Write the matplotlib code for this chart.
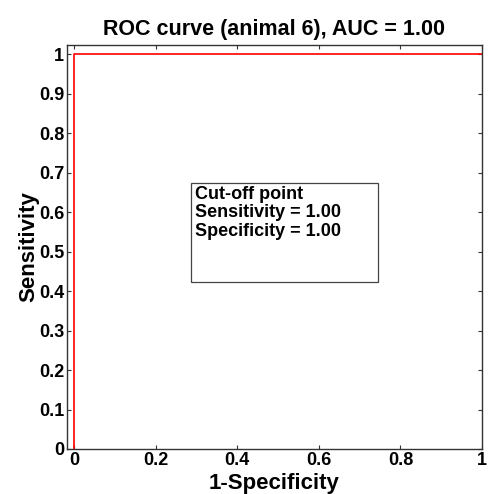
import matplotlib
matplotlib.use("Agg")
import matplotlib.pyplot as plt
from matplotlib.patches import Rectangle

fpr = [0.0, 0.0, 1.0]
tpr = [0.0, 1.0, 1.0]
ticks_x = [0, 0.2, 0.4, 0.6, 0.8, 1]
ticks_y = [0, 0.1, 0.2, 0.3, 0.4, 0.5, 0.6, 0.7, 0.8, 0.9, 1]
tick_lbl_x = ["0", "0.2", "0.4", "0.6", "0.8", "1"]
tick_lbl_y = ["0", "0.1", "0.2", "0.3", "0.4", "0.5", "0.6", "0.7", "0.8", "0.9", "1"]
box_lines = ["Cut-off point", "Sensitivity = 1.00", "Specificity = 1.00"]

plt.rcParams['font.family'] = ['Liberation Sans', 'DejaVu Sans']
plt.rcParams['font.weight'] = 'bold'

fig = plt.figure(figsize=(4.9, 4.94), dpi=100)
ax = fig.add_axes([0.1367, 0.0911, 0.847, 0.8178])
ax.plot(fpr, tpr, color='red', lw=1.2)
ax.set_xlim(-0.017, 1.0)
ax.set_ylim(0, 1.023)
ax.set_xticks(ticks_x)
ax.set_xticklabels(tick_lbl_x)
ax.set_yticks(ticks_y)
ax.set_yticklabels(tick_lbl_y)
ax.tick_params(direction='in', length=3, width=0.8, top=True, right=True,
               labelsize=13, pad=2, color='#333333')
for lbl in ax.get_xticklabels() + ax.get_yticklabels():
    lbl.set_fontweight('bold')
for s in ax.spines.values():
    s.set_color('#333333')
    s.set_linewidth(1.0)
ax.set_xlabel('1-Specificity', fontsize=16, fontweight='bold', labelpad=3)
ax.set_ylabel('Sensitivity', fontsize=16, fontweight='bold', labelpad=0)
ax.set_title('ROC curve (animal 6), AUC = 1.00', fontsize=15.5, fontweight='bold', pad=7)

ax.add_patch(Rectangle((0.288, 0.423), 0.456, 0.25, fill=False, edgecolor='#444444', lw=0.9))
ax.text(0.296, 0.667, "\n".join(box_lines), fontsize=13, fontweight='bold',
        va='top', ha='left', linespacing=1.12)

fig.savefig('out.png', dpi=100)
